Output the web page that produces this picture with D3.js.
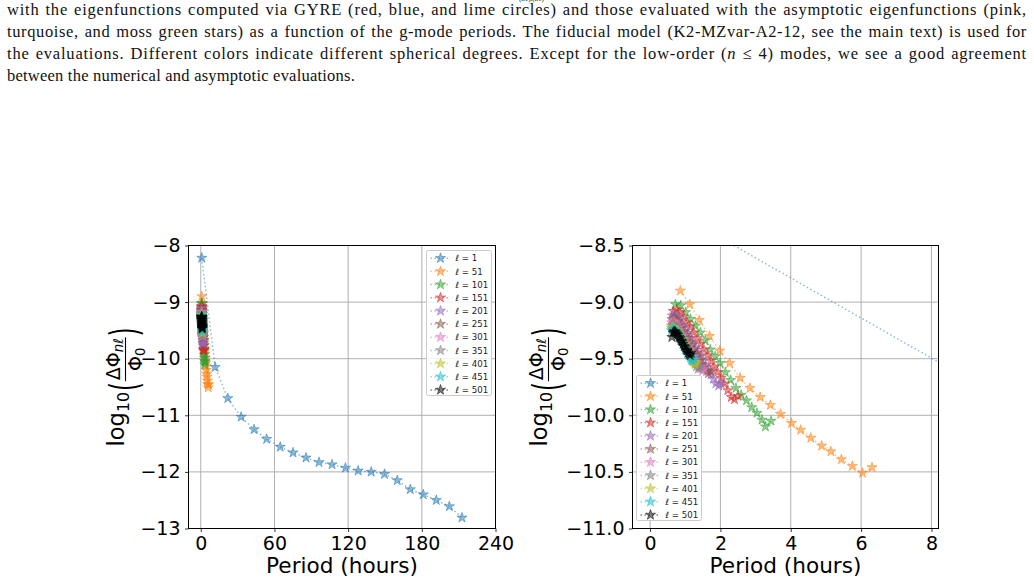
<!DOCTYPE html>
<html>
<head>
<meta charset="utf-8">
<script src="https://cdn.jsdelivr.net/npm/d3@7"></script>
<style>
body { margin: 0; background: white; }
</style>
</head>
<body>
<svg id="fig" width="1034" height="583"></svg>
<script>

// spherical degrees, one series each
const degrees = [1, 51, 101, 151, 201, 251, 301, 351, 401, 451, 501];

// period (hours) and log10(dPhi/Phi0)
const period_l1 = [0.8, 11.7, 22.0, 32.9, 43.4, 53.6, 64.7, 75.1, 85.7, 96.3, 106.9, 117.8, 128.2, 138.8, 149.6, 160.0, 170.6, 181.2, 191.8, 202.4, 212.7];
const dphi_l1 = [-8.22, -10.15, -10.70, -11.03, -11.25, -11.42, -11.56, -11.66, -11.75, -11.83, -11.87, -11.93, -11.98, -12.00, -12.04, -12.15, -12.31, -12.40, -12.50, -12.61, -12.81];

const period_l51 = [0.86, 1.13, 1.40, 1.69, 1.98, 2.26, 2.56, 2.84, 3.13, 3.42, 3.71, 4.02, 4.28, 4.57, 4.88, 5.14, 5.44, 5.75, 6.04, 6.31];
const dphi_l51 = [-8.90, -9.02, -9.16, -9.30, -9.43, -9.54, -9.67, -9.76, -9.84, -9.91, -9.99, -10.07, -10.13, -10.20, -10.27, -10.32, -10.39, -10.45, -10.51, -10.46];

const period_l101 = [0.72, 0.87, 1.01, 1.15, 1.29, 1.43, 1.57, 1.71, 1.85, 1.99, 2.14, 2.29, 2.44, 2.59, 2.74, 2.89, 3.04, 3.18, 3.28, 3.44];
const dphi_l101 = [-9.02, -9.03, -9.09, -9.15, -9.21, -9.27, -9.34, -9.42, -9.48, -9.54, -9.62, -9.69, -9.76, -9.82, -9.87, -9.93, -9.98, -10.04, -10.10, -10.05];

const period_l151 = [0.66, 0.76, 0.85, 0.95, 1.05, 1.14, 1.24, 1.34, 1.43, 1.53, 1.63, 1.73, 1.82, 1.92, 2.02, 2.11, 2.21, 2.31, 2.40, 2.50];
const dphi_l151 = [-9.08, -9.07, -9.09, -9.13, -9.18, -9.22, -9.27, -9.32, -9.37, -9.42, -9.47, -9.52, -9.57, -9.62, -9.67, -9.72, -9.78, -9.84, -9.86, -9.83];

const period_l201 = [0.63, 0.70, 0.78, 0.85, 0.92, 1.00, 1.07, 1.14, 1.22, 1.29, 1.36, 1.43, 1.51, 1.58, 1.65, 1.73, 1.80, 1.87, 1.95, 2.02];
const dphi_l201 = [-9.12, -9.11, -9.13, -9.16, -9.20, -9.24, -9.28, -9.32, -9.36, -9.40, -9.44, -9.48, -9.52, -9.56, -9.60, -9.64, -9.68, -9.72, -9.74, -9.72];

const period_l251 = [0.62, 0.68, 0.74, 0.79, 0.85, 0.91, 0.97, 1.03, 1.08, 1.14, 1.20, 1.26, 1.32, 1.37, 1.43, 1.49, 1.55, 1.61, 1.66, 1.72];
const dphi_l251 = [-9.15, -9.14, -9.15, -9.17, -9.20, -9.23, -9.26, -9.29, -9.32, -9.35, -9.38, -9.42, -9.45, -9.48, -9.51, -9.55, -9.58, -9.61, -9.63, -9.61];

const period_l301 = [0.61, 0.66, 0.71, 0.76, 0.81, 0.86, 0.91, 0.95, 1.00, 1.05, 1.10, 1.15, 1.20, 1.25, 1.30, 1.35, 1.40, 1.44, 1.49, 1.54];
const dphi_l301 = [-9.18, -9.17, -9.18, -9.20, -9.22, -9.25, -9.28, -9.30, -9.33, -9.36, -9.39, -9.42, -9.45, -9.48, -9.51, -9.54, -9.57, -9.59, -9.61, -9.59];

const period_l351 = [0.61, 0.65, 0.69, 0.74, 0.78, 0.82, 0.86, 0.90, 0.95, 0.99, 1.03, 1.07, 1.11, 1.16, 1.20, 1.24, 1.28, 1.32, 1.37, 1.41];
const dphi_l351 = [-9.21, -9.20, -9.21, -9.22, -9.24, -9.26, -9.29, -9.31, -9.34, -9.36, -9.39, -9.41, -9.44, -9.47, -9.49, -9.52, -9.54, -9.57, -9.59, -9.57];

const period_l401 = [0.61, 0.65, 0.68, 0.72, 0.76, 0.79, 0.83, 0.87, 0.91, 0.94, 0.98, 1.02, 1.05, 1.09, 1.13, 1.16, 1.20, 1.24, 1.28, 1.31];
const dphi_l401 = [-9.23, -9.22, -9.23, -9.24, -9.25, -9.27, -9.29, -9.31, -9.33, -9.35, -9.37, -9.40, -9.42, -9.44, -9.46, -9.49, -9.51, -9.53, -9.55, -9.53];

const period_l451 = [0.61, 0.64, 0.68, 0.71, 0.74, 0.78, 0.81, 0.84, 0.87, 0.91, 0.94, 0.97, 1.01, 1.04, 1.07, 1.10, 1.14, 1.17, 1.20, 1.24];
const dphi_l451 = [-9.25, -9.24, -9.24, -9.25, -9.26, -9.28, -9.29, -9.31, -9.33, -9.35, -9.37, -9.39, -9.41, -9.43, -9.45, -9.47, -9.49, -9.51, -9.52, -9.50];

const period_l501 = [0.62, 0.65, 0.68, 0.71, 0.73, 0.76, 0.79, 0.82, 0.85, 0.88, 0.91, 0.94, 0.97, 1.00, 1.02, 1.05, 1.08, 1.11, 1.14, 1.17];
const dphi_l501 = [-9.31, -9.27, -9.26, -9.26, -9.27, -9.28, -9.29, -9.31, -9.32, -9.34, -9.35, -9.37, -9.39, -9.40, -9.42, -9.43, -9.45, -9.46, -9.47, -9.45];

const series_periods = [period_l1, period_l51, period_l101, period_l151, period_l201, period_l251,
                        period_l301, period_l351, period_l401, period_l451, period_l501];
const series_dphi = [dphi_l1, dphi_l51, dphi_l101, dphi_l151, dphi_l201, dphi_l251,
                     dphi_l301, dphi_l351, dphi_l401, dphi_l451, dphi_l501];

const series_colors = ["#1f77b4", "#ff7f0e", "#2ca02c", "#d62728", "#9467bd", "#8c564b",
                       "#e377c2", "#7f7f7f", "#bcbd22", "#17becf", "#000000"];

const left_x_ticks = [0, 60, 120, 180, 240];
const left_y_ticks = [-8, -9, -10, -11, -12, -13];
const right_x_ticks = [0, 2, 4, 6, 8];
const right_y_ticks = [-8.5, -9.0, -9.5, -10.0, -10.5, -11.0];

const caption_lines = [
    [["with the eigenfunctions computed via GYRE (red, blue, and lime circles) and those evaluated with the asymptotic eigenfunctions (pink,", false]],
    [["turquoise, and moss green stars) as a function of the g-mode periods. The fiducial model (K2-MZvar-A2-12, see the main text) is used for", false]],
    [["the evaluations. Different colors indicate different spherical degrees. Except for the low-order (", false], ["n", true], [" \u2264 4) modes, we see a good agreement", false]],
    [["between the numerical and asymptotic evaluations.", false]]
];

let svg = d3.select("#fig");
let defs = svg.append("defs");

function minus_format(d, digits) {
    let s = digits > 0 ? d.toFixed(digits) : String(d);
    return s.replace("-", "\u2212");
}

function draw_caption() {

    // clipped line of the previous paragraph at the very top
    svg.append("text")
        .attr("x", 519)
        .attr("y", 0.5)
        .attr("font-family", "Liberation Serif")
        .attr("font-size", 7)
        .attr("fill", "#111")
        .text("(n\u2113),(n\u2113)");

    let rows = svg.append("g")
        .selectAll("text")
        .data(caption_lines)
        .enter()
        .append("text")
        .attr("x", 7)
        .attr("y", function(d, i) { return 15 + i * 22; })
        .attr("font-family", "Liberation Serif")
        .attr("font-size", 16.5)
        .attr("fill", "#111");

    rows.each(function(d) {
        let row = d3.select(this);
        d.forEach(function(seg) {
            row.append("tspan")
                .attr("font-style", seg[1] ? "italic" : null)
                .text(seg[0]);
        });
    });

    function plain(d) { return d.map(function(s) { return s[0]; }).join(""); }

    // the ragged last line sets the base glyph spacing
    let last_width = rows.nodes()[3].getComputedTextLength();
    let base_sp = (348 - last_width) / plain(caption_lines[3]).length;
    rows.attr("letter-spacing", base_sp);

    // justify the full lines: a little extra per word gap, the rest spread over glyphs
    rows.each(function(d, i) {
        if (i === 3) return;
        let text = plain(d);
        let natural = this.getComputedTextLength();
        let n_spaces = text.split(" ").length - 1;
        let extra = 1020 - natural;
        let word_part = Math.min(extra, n_spaces * 1.2);
        d3.select(this)
            .attr("word-spacing", word_part / n_spaces)
            .attr("letter-spacing", base_sp + (extra - word_part) / text.length);
    });
}

function draw_ylabel(base_x, center_y) {

    let g = svg.append("g");
    let inner = g.append("g");
    let font = "DejaVu Sans";
    let big = 22.5, sub = 15.8, frac = 19, frac_sub = 13.3;
    let cursor = 0;

    function put(str, size, dy) {
        let t = inner.append("text")
            .attr("x", cursor)
            .attr("y", dy)
            .attr("font-family", font)
            .attr("font-size", size)
            .text(str);
        cursor += t.node().getComputedTextLength();
        return t;
    }

    // tall delimiter: stretch a normal paren vertically about the fraction bar
    function paren(str) {
        let s = 1.75;
        let t = inner.append("text")
            .attr("x", cursor)
            .attr("y", 0)
            .attr("font-family", font)
            .attr("font-size", big)
            .attr("transform", "translate(0," + (1.5 + 0.31 * big * s) + ") scale(1," + s + ")")
            .text(str);
        cursor += t.node().getComputedTextLength();
    }

    put("log", big, 0);
    put("10", sub, 5);
    cursor += 1;
    paren("(");

    // fraction
    let frac_x = cursor + 1;
    let num = inner.append("text")
        .attr("font-family", font)
        .attr("y", -4);
    num.append("tspan").attr("font-size", frac).text("\u0394\u03a6");
    num.append("tspan").attr("font-size", frac_sub).attr("font-style", "italic").attr("dy", 3).text("n\u2113");
    let den = inner.append("text")
        .attr("font-family", font)
        .attr("y", 17.5);
    den.append("tspan").attr("font-size", frac).text("\u03a6");
    den.append("tspan").attr("font-size", frac_sub).attr("dy", 3).text("0");

    let num_w = num.node().getComputedTextLength();
    let den_w = den.node().getComputedTextLength();
    let bar_w = Math.max(num_w, den_w) + 2;
    num.attr("x", frac_x + (bar_w - num_w) / 2);
    den.attr("x", frac_x + (bar_w - den_w) / 2);
    inner.append("line")
        .attr("x1", frac_x)
        .attr("x2", frac_x + bar_w)
        .attr("y1", 1.5)
        .attr("y2", 1.5)
        .attr("stroke", "black")
        .attr("stroke-width", 1.1);
    cursor = frac_x + bar_w + 1;

    paren(")");

    let total = cursor;
    g.attr("transform", "translate(" + base_x + "," + (center_y + total / 2) + ") rotate(-90)");
}

function draw_legend(lx, ly) {

    let row_h = 13.17;
    let g = svg.append("g");

    g.append("rect")
        .attr("x", lx)
        .attr("y", ly)
        .attr("width", 65)
        .attr("height", 145)
        .attr("rx", 2)
        .attr("fill", "white")
        .attr("fill-opacity", 0.8)
        .attr("stroke", "#cccccc")
        .attr("stroke-width", 1);

    let rows = g.selectAll(".legend_row")
        .data(degrees)
        .enter()
        .append("g")
        .attr("class", "legend_row")
        .attr("transform", function(d, i) {
            return "translate(" + lx + "," + (ly + 7.7 + i * row_h) + ")";
        });

    rows.append("line")
        .attr("x1", 4)
        .attr("x2", 24)
        .attr("y1", 0)
        .attr("y2", 0)
        .attr("stroke", function(d, i) { return series_colors[i]; })
        .attr("stroke-opacity", 0.5)
        .attr("stroke-width", 1.5)
        .attr("stroke-dasharray", "1.5,2.5");

    rows.append("path")
        .attr("d", d3.symbol().type(d3.symbolStar).size(32))
        .attr("transform", "translate(14,0)")
        .attr("fill", function(d, i) { return series_colors[i]; })
        .attr("fill-opacity", 0.5)
        .attr("stroke", function(d, i) { return series_colors[i]; })
        .attr("stroke-opacity", 0.5)
        .attr("stroke-width", 1);

    let labels = rows.append("text")
        .attr("x", 29)
        .attr("y", 3.2)
        .attr("font-family", "DejaVu Sans")
        .attr("font-size", 8.6)
        .attr("fill", "#222");
    labels.append("tspan").attr("font-style", "italic").text("\u2113");
    labels.append("tspan").text(function(d) { return " = " + d; });
}

function draw_panel(panel) {

    let x_scale = d3.scaleLinear()
        .domain(panel.x_domain)
        .range([panel.left, panel.right]);
    let y_scale = d3.scaleLinear()
        .domain(panel.y_domain)
        .range([panel.bottom, panel.top]);

    defs.append("clipPath")
        .attr("id", panel.id + "_clip")
        .append("rect")
        .attr("x", panel.left)
        .attr("y", panel.top)
        .attr("width", panel.right - panel.left)
        .attr("height", panel.bottom - panel.top);

    // grid
    let grid = svg.append("g");
    grid.selectAll(".vgrid")
        .data(panel.x_ticks)
        .enter()
        .append("line")
        .attr("x1", function(d) { return x_scale(d); })
        .attr("x2", function(d) { return x_scale(d); })
        .attr("y1", panel.top)
        .attr("y2", panel.bottom)
        .attr("stroke", "#b0b0b0")
        .attr("stroke-width", 1);
    grid.selectAll(".hgrid")
        .data(panel.y_ticks)
        .enter()
        .append("line")
        .attr("x1", panel.left)
        .attr("x2", panel.right)
        .attr("y1", function(d) { return y_scale(d); })
        .attr("y2", function(d) { return y_scale(d); })
        .attr("stroke", "#b0b0b0")
        .attr("stroke-width", 1);

    // series
    let plot = svg.append("g").attr("clip-path", "url(#" + panel.id + "_clip)");
    let line = d3.line()
        .x(function(d) { return x_scale(d[0]); })
        .y(function(d) { return y_scale(d[1]); });

    for (let i = 0; i < degrees.length; i++) {
        let pts = d3.zip(series_periods[i], series_dphi[i]);
        let sg = plot.append("g");
        sg.append("path")
            .attr("d", line(pts))
            .attr("fill", "none")
            .attr("stroke", series_colors[i])
            .attr("stroke-opacity", 0.5)
            .attr("stroke-width", 1.5)
            .attr("stroke-dasharray", "1.5,2.5");
        sg.selectAll(".star")
            .data(pts)
            .enter()
            .append("path")
            .attr("d", d3.symbol().type(d3.symbolStar).size(32))
            .attr("transform", function(d) {
                return "translate(" + x_scale(d[0]) + "," + y_scale(d[1]) + ")";
            })
            .attr("fill", series_colors[i])
            .attr("fill-opacity", 0.5)
            .attr("stroke", series_colors[i])
            .attr("stroke-opacity", 0.5)
            .attr("stroke-width", 1);
    }

    // axes
    let x_axis = svg.append("g")
        .attr("transform", "translate(0," + panel.bottom + ")")
        .call(d3.axisBottom(x_scale)
            .tickValues(panel.x_ticks)
            .tickSize(3.5)
            .tickPadding(5)
            .tickFormat(function(d) { return minus_format(d, panel.x_digits); }));
    let y_axis = svg.append("g")
        .attr("transform", "translate(" + panel.left + ",0)")
        .call(d3.axisLeft(y_scale)
            .tickValues(panel.y_ticks)
            .tickSize(3.5)
            .tickPadding(4.5)
            .tickFormat(function(d) { return minus_format(d, panel.y_digits); }));

    [x_axis, y_axis].forEach(function(ax) {
        ax.select(".domain").remove();
        ax.attr("font-family", "DejaVu Sans").attr("font-size", 19);
        ax.selectAll("line").attr("stroke", "black").attr("stroke-width", 0.8);
        ax.selectAll("text").attr("fill", "black");
    });

    // spines
    svg.append("rect")
        .attr("x", panel.left)
        .attr("y", panel.top)
        .attr("width", panel.right - panel.left)
        .attr("height", panel.bottom - panel.top)
        .attr("fill", "none")
        .attr("stroke", "black")
        .attr("stroke-width", 1);

    draw_legend(panel.legend_x, panel.legend_y);

    svg.append("text")
        .attr("x", (panel.left + panel.right) / 2)
        .attr("y", 573)
        .attr("text-anchor", "middle")
        .attr("font-family", "DejaVu Sans")
        .attr("font-size", 21.6)
        .attr("fill", "black")
        .text("Period (hours)");

    draw_ylabel(panel.ylabel_x, (panel.top + panel.bottom) / 2);
}

draw_caption();

draw_panel({
    id: "left",
    left: 188.5, right: 495.5, top: 245.5, bottom: 528.5,
    x_domain: [-10, 240], y_domain: [-13, -8],
    x_ticks: left_x_ticks, y_ticks: left_y_ticks,
    x_digits: 0, y_digits: 0,
    legend_x: 426.5, legend_y: 250.5,
    ylabel_x: 124
});

draw_panel({
    id: "right",
    left: 632.5, right: 938.5, top: 245.5, bottom: 528.5,
    x_domain: [-0.5, 8.2], y_domain: [-11.0, -8.5],
    x_ticks: right_x_ticks, y_ticks: right_y_ticks,
    x_digits: 0, y_digits: 1,
    legend_x: 636.5, legend_y: 375.5,
    ylabel_x: 547
});

</script>
</body>
</html>
